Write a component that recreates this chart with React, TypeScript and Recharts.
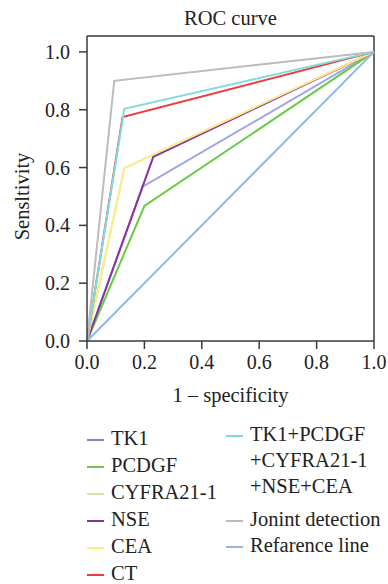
import { LineChart, Line, XAxis, YAxis, ReferenceLine } from 'recharts';

const tk1 = [{ x: 0, y: 0 }, { x: 0.194, y: 0.534 }, { x: 1, y: 1 }];
const pcdgf = [{ x: 0, y: 0 }, { x: 0.2, y: 0.467 }, { x: 1, y: 1 }];
const cyfra = [{ x: 0, y: 0 }, { x: 0.13, y: 0.598 }, { x: 1, y: 1 }];
const nse = [{ x: 0, y: 0 }, { x: 0.231, y: 0.637 }, { x: 1, y: 1 }];
const cea = [{ x: 0, y: 0 }, { x: 0.13, y: 0.598 }, { x: 1, y: 1 }];
const ct = [{ x: 0, y: 0 }, { x: 0.124, y: 0.775 }, { x: 1, y: 1 }];
const combo = [{ x: 0, y: 0 }, { x: 0.13, y: 0.803 }, { x: 1, y: 1 }];
const joint = [{ x: 0, y: 0 }, { x: 0.095, y: 0.9 }, { x: 1, y: 1 }];
const refLine = [{ x: 0, y: 0 }, { x: 1, y: 1 }];

const ticks = [0, 0.2, 0.4, 0.6, 0.8, 1.0];

const series = [
  { name: 'TK1', data: tk1, color: '#a0a7e0', swatch: '#7b86cc' },
  { name: 'PCDGF', data: pcdgf, color: '#66cc44', swatch: '#66cc44' },
  { name: 'CYFRA21-1', data: cyfra, color: '#e2dab4', swatch: '#e2dab4' },
  { name: 'NSE', data: nse, color: '#8a32a2', swatch: '#8a32a2' },
  { name: 'CEA', data: cea, color: '#fcef86', swatch: '#fcef86' },
  { name: 'CT', data: ct, color: '#ee3b3b', swatch: '#ee3b3b' },
  { name: 'TK1+PCDGF\n+CYFRA21-1\n+NSE+CEA', data: combo, color: '#80dcdc', swatch: '#80dcdc' },
  { name: 'Jonint detection', data: joint, color: '#bcbcbc', swatch: '#bcbcbc' },
  { name: 'Refarence line', data: refLine, color: '#92b8e2', swatch: '#92b8e2' },
];

const font = '"Liberation Serif", "Times New Roman", serif';
const axisColor = '#3a3a3a';
const textColor = '#222';

function LegendItem({ name, swatch, lh, gap }: { name: string; swatch: string; lh: number; gap: number }) {
  const lines = name.split('\n');
  return (
    <div style={{ display: 'flex', alignItems: 'flex-start', marginBottom: gap }}>
      <div style={{ width: 17, height: 2, background: swatch, marginTop: lh / 2, marginRight: 7 }} />
      <div style={{ lineHeight: lh + 'px', whiteSpace: 'nowrap' }}>
        {lines.map((l) => (
          <div key={l}>{l}</div>
        ))}
      </div>
    </div>
  );
}

export default function App() {
  return (
    <div style={{ position: 'absolute', left: 0, top: 0, width: 388, height: 584, background: '#fff', fontFamily: font, color: textColor, overflow: 'hidden' }}>
      <div style={{ position: 'absolute', top: 7, left: 87, width: 287, textAlign: 'center', fontSize: 20.5 }}>ROC curve</div>
      <LineChart width={388} height={410} margin={{ top: 36, right: 14, left: 0, bottom: 0 }} style={{ fontFamily: font }}>
        <XAxis
          dataKey="x"
          type="number"
          domain={[0, 1]}
          ticks={ticks}
          tickFormatter={(v: number) => v.toFixed(1)}
          stroke={axisColor}
          strokeWidth={1.5}
          tick={{ fill: textColor, fontSize: 20, fontFamily: font }}
          tickSize={8}
          tickMargin={6}
          height={69}
          label={{ value: '1 \u2013 specificity', position: 'insideBottom', offset: 8, fill: textColor, fontSize: 20.5, fontFamily: font }}
        />
        <YAxis
          dataKey="y"
          type="number"
          domain={[0, 1.055]}
          ticks={ticks}
          tickFormatter={(v: number) => v.toFixed(1)}
          stroke={axisColor}
          strokeWidth={1.5}
          tick={{ fill: textColor, fontSize: 20, fontFamily: font }}
          tickSize={8}
          tickMargin={9}
          width={87}
          label={{ value: 'Sensltivity', angle: -90, position: 'insideLeft', offset: 22, dy: 8, fill: textColor, fontSize: 20.5, fontFamily: font, style: { textAnchor: 'middle' } }}
        />
        <ReferenceLine x={1} stroke={axisColor} strokeWidth={1.5} />
        <ReferenceLine y={1.055} stroke={axisColor} strokeWidth={1.5} />
        {series.map((s) => (
          <Line
            key={s.name}
            data={s.data}
            dataKey="y"
            type="linear"
            stroke={s.color}
            strokeWidth={2}
            dot={false}
            isAnimationActive={false}
          />
        ))}
      </LineChart>
      <div style={{ position: 'absolute', top: 425, left: 87, fontSize: 20.5 }}>
        {series.slice(0, 6).map((s) => (
          <LegendItem key={s.name} name={s.name} swatch={s.swatch} lh={27} gap={0} />
        ))}
      </div>
      <div style={{ position: 'absolute', top: 422, left: 226, fontSize: 20.5 }}>
        {series.slice(6).map((s, i) => (
          <LegendItem key={s.name} name={s.name} swatch={s.swatch} lh={25.8} gap={i === 0 ? 8 : 0} />
        ))}
      </div>
    </div>
  );
}
